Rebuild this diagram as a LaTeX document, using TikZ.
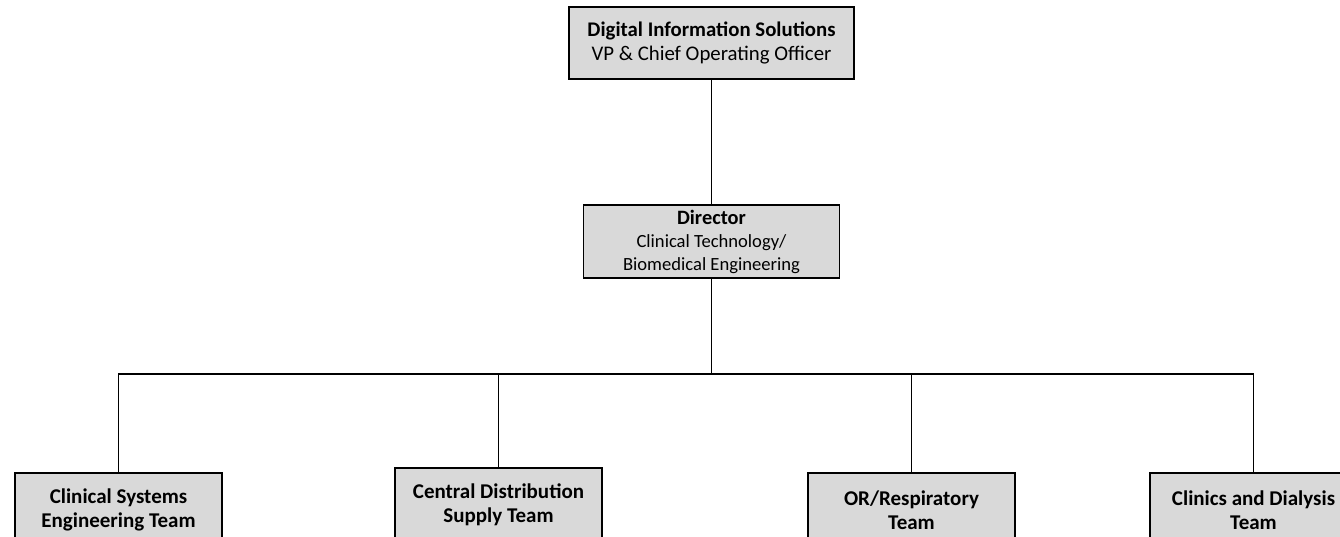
\documentclass[tikz,border=0pt]{standalone}
\usepackage{fontspec}
\setmainfont{Carlito}
\usetikzlibrary{positioning}

\tikzset{
  unit/.style={draw=black, line width=1.8pt, fill=black!15, align=center,
    inner sep=0pt, font=\fontsize{21}{24}\selectfont},
  link/.style={line width=1.8pt}
}

\begin{document}
\begin{tikzpicture}[x=1pt, y=-1pt]
        \useasboundingbox (0,0) rectangle (1340,536);

        \node[unit, minimum width=285pt, minimum height=72pt,
              font=\fontsize{20.8}{23.5}\selectfont] (dis) at (711.5,43)
              {\textbf{Digital Information Solutions}\\VP \& Chief Operating Officer};
        \node[unit, minimum width=256pt, minimum height=73pt,
              font=\fontsize{18.6}{23}\selectfont] (dir) at (711.5,241.5)
              {{\fontsize{20.4}{23}\selectfont\textbf{Director}}\\Clinical Technology/\\Biomedical Engineering};

        \node[unit, minimum width=207pt, minimum height=74pt] (cse) at (118.5,510)
              {\textbf{Clinical Systems}\\\textbf{Engineering Team}};
        \node[unit, minimum width=207pt, minimum height=74pt] (cds) at (498.5,505)
              {\textbf{Central Distribution}\\\textbf{Supply Team}};
        \node[unit, minimum width=207pt, minimum height=74pt] (ort) at (911.5,510)
              {\textbf{OR/Respiratory}\\\textbf{Team}};
        \node[unit, minimum width=207pt, minimum height=74pt] (cdt) at (1253.5,510)
              {\textbf{Clinics and Dialysis}\\\textbf{Team}};

        \coordinate (bus) at (711.5,374);

        \draw[link] (dis) -- (dir);
        \draw[link] (dir) -- (bus);
        \draw[link] (bus) -| (cse.north);
        \draw[link] (bus) -| (cds.north);
        \draw[link] (bus) -| (ort.north);
        \draw[link] (bus) -| (cdt.north);
    \end{tikzpicture}
\end{document}
